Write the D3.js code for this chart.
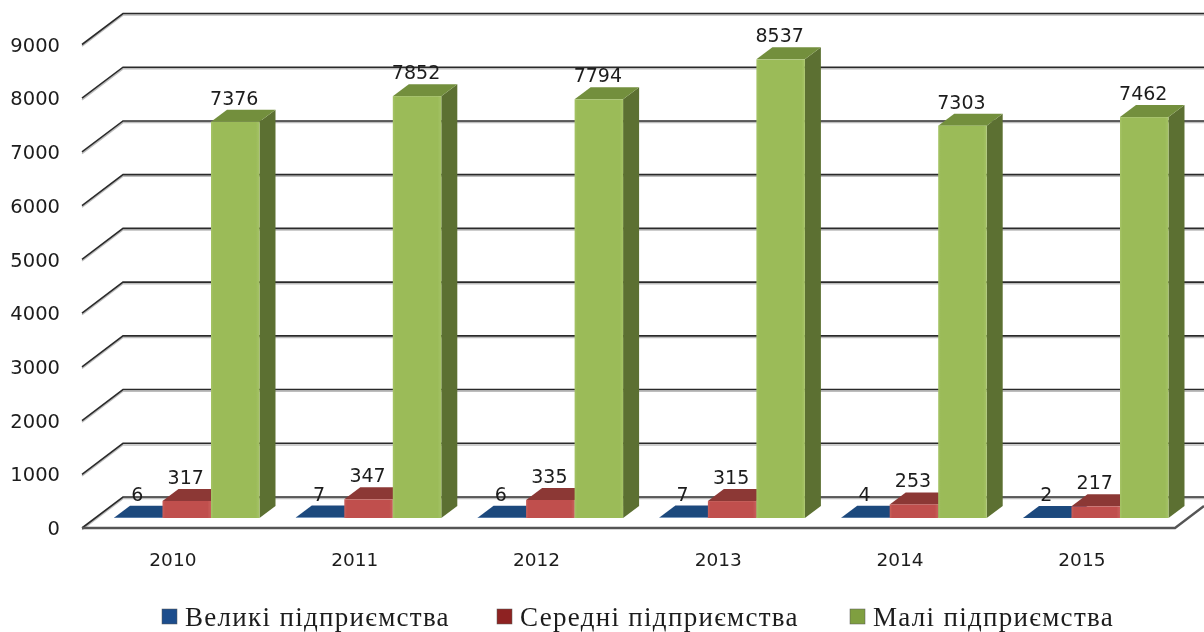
<!DOCTYPE html>
<html>
<head>
<meta charset="utf-8">
<script src="https://cdn.jsdelivr.net/npm/d3@7"></script>
<style>
  html, body { margin: 0; padding: 0; background: #fff; overflow: hidden; }
  text { fill: #1c1c1c; }
</style>
</head>
<body>
<svg width="1204" height="632"></svg>
<script>
var years = ["2010", "2011", "2012", "2013", "2014", "2015"];
var seriesNames = ["Великі підприємства", "Середні підприємства", "Малі підприємства"];
var large = [6, 7, 6, 7, 4, 2];
var medium = [317, 347, 335, 315, 253, 217];
var small = [7376, 7852, 7794, 8537, 7303, 7462];
var yTicks = [0, 1000, 2000, 3000, 4000, 5000, 6000, 7000, 8000, 9000];

var svg = d3.select("svg");
var values = [large, medium, small];

// colours per series: front / top / side
var colors = [
  { front: "#4f81bd", light: "#3f6ea8", top: "#1f497d", side: "#17375e", key: "#1f4e8c" },
  { front: "#c0504d", light: "#c9605c", top: "#8c3836", side: "#632523", key: "#8e2420" },
  { front: "#9bbb59", light: "#a6c466", top: "#738f3e", side: "#5c7030", key: "#7f9f3f" }
];

var floorY = 528,      // front edge of the floor
    floorX = 82,
    floorEnd = 1175,
    wallDx = 41, wallDy = -31,   // floor depth
    barDx = 16, barDy = -12,     // bar depth
    baseY = 518;                 // bottom of bar fronts

var y = d3.scaleLinear().domain([0, 9000]).range([floorY, floorY - 483.5]);
var h = function(v) { return floorY - y(v); };

var x = d3.scaleBand().domain(years).range([81, 81 + 1090.8]).paddingInner(0).paddingOuter(0);
var xInner = d3.scaleBand().domain([0, 1, 2]).range([33, 33 + 145.5]);

var defs = svg.append("defs");
defs.append("filter").attr("id", "soft")
    .attr("x", "-2%").attr("y", "-2%").attr("width", "104%").attr("height", "104%")
  .append("feGaussianBlur").attr("stdDeviation", 0.5);

colors.forEach(function(c, i) {
  var g = defs.append("linearGradient").attr("id", "front" + i).attr("x1", 0).attr("x2", 1).attr("y1", 0).attr("y2", 0);
  g.append("stop").attr("offset", "0%").attr("stop-color", c.light);
  g.append("stop").attr("offset", "5%").attr("stop-color", c.front);
  g.append("stop").attr("offset", "93%").attr("stop-color", c.front);
  g.append("stop").attr("offset", "100%").attr("stop-color", c.light);
});

var root = svg.append("g").attr("filter", "url(#soft)");

// gridlines with the slanted wall part
var grid = root.append("g").selectAll("g").data(yTicks).enter().append("g");
grid.append("polyline")
    .attr("fill", "none")
    .attr("stroke", "#bdbdbd")
    .attr("stroke-width", 1.5)
    .attr("transform", "translate(0,1.6)")
    .attr("points", function(d) {
      return [[floorX, y(d)], [floorX + wallDx, y(d) + wallDy], [1204, y(d) + wallDy]].join(" ");
    });
grid.append("polyline")
    .attr("fill", "none")
    .attr("stroke", "#2b2b2b")
    .attr("stroke-width", 1.6)
    .attr("points", function(d) {
      return [[floorX, y(d)], [floorX + wallDx, y(d) + wallDy], [1204, y(d) + wallDy]].join(" ");
    });

// floor front edge and right edge
root.append("polyline")
    .attr("fill", "none")
    .attr("stroke", "#555")
    .attr("stroke-width", 2.4)
    .attr("points", [[floorX, floorY], [floorEnd, floorY], [1204, floorY - 22]].join(" "));

// bars
var groups = root.append("g").selectAll("g").data(years).enter().append("g")
    .attr("transform", function(d) { return "translate(" + x(d) + ",0)"; });

groups.each(function(year, yi) {
  var g = d3.select(this);
  [0, 1, 2].forEach(function(s) {
    var v = values[s][yi],
        c = colors[s],
        x0 = xInner(s),
        w = xInner.bandwidth(),
        top = baseY - h(v);
    // right side
    g.append("polygon")
        .attr("fill", c.side)
        .attr("points", [[x0 + w, baseY], [x0 + w + barDx, baseY + barDy], [x0 + w + barDx, top + barDy], [x0 + w, top]].join(" "));
    // top
    g.append("polygon")
        .attr("fill", c.top)
        .attr("points", [[x0, top], [x0 + barDx, top + barDy], [x0 + w + barDx, top + barDy], [x0 + w, top]].join(" "));
    // front
    g.append("rect")
        .attr("x", x0).attr("y", top)
        .attr("width", w).attr("height", baseY - top)
        .attr("fill", "url(#front" + s + ")");
  });
  [0, 1, 2].forEach(function(s) {
    var v = values[s][yi];
    g.append("text")
        .attr("x", xInner(s) + xInner.bandwidth() / 2 - 1)
        .attr("y", baseY - h(v) + barDy - 5)
        .attr("text-anchor", "middle")
        .style("font", "19px 'DejaVu Sans'")
        .text(v);
  });
});

// y axis labels
var yAxis = root.append("g")
    .attr("transform", "translate(60,0)")
    .call(d3.axisLeft(y).tickValues(yTicks).tickSize(0).tickPadding(0).tickFormat(d3.format("d")));
yAxis.select(".domain").remove();
yAxis.selectAll("text")
    .style("font", "19.5px 'DejaVu Sans'")
    .style("fill", "#1c1c1c")
    .attr("dy", "0.34em");

// x axis labels
var xAxis = root.append("g")
    .attr("transform", "translate(1,560)")
    .call(d3.axisBottom(x).tickSize(0).tickPadding(0));
xAxis.select(".domain").remove();
xAxis.selectAll("text")
    .style("font", "18.5px 'DejaVu Sans'")
    .style("fill", "#1c1c1c")
    .attr("y", 0)
    .attr("dy", "0.34em");

// legend
var legendX = [162, 497, 850];
var legend = root.append("g").selectAll("g").data(seriesNames).enter().append("g")
    .attr("transform", function(d, i) { return "translate(" + legendX[i] + ",624)"; });
legend.append("rect")
    .attr("x", 0).attr("y", -15)
    .attr("width", 15).attr("height", 15)
    .attr("fill", function(d, i) { return colors[i].key; })
    .attr("stroke", "#555").attr("stroke-width", 0.5);
legend.append("text")
    .attr("x", 23).attr("y", 1.5)
    .style("font", "27px 'Liberation Serif'")
    .style("letter-spacing", "1.3px")
    .text(function(d) { return d; });
</script>
</body>
</html>
